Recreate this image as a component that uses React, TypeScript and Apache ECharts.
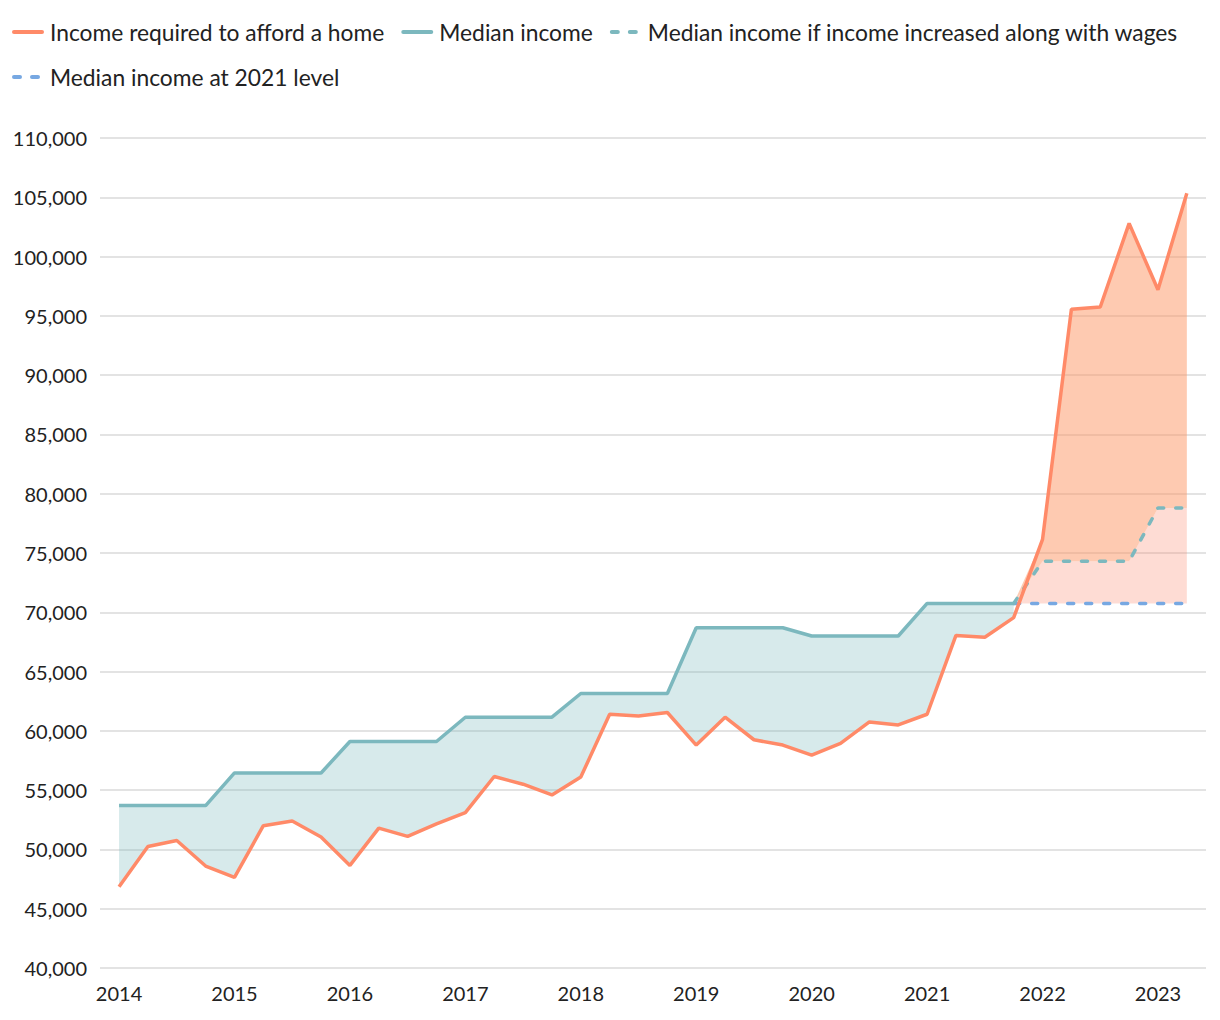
import React, { useEffect, useRef } from "react";
import * as echarts from "echarts";

const firstYear = 2014;
const yearTicks = [2014, 2015, 2016, 2017, 2018, 2019, 2020, 2021, 2022, 2023];

// Quarterly, 2014 Q1 – 2023 Q2
const incomeRequired = [
  46850, 50250, 50750, 48600,
  47650, 52000, 52400, 51050,
  48650, 51800, 51100, 52150,
  53100, 56150, 55500, 54600,
  56100, 61400, 61250, 61550,
  58800, 61150, 59250, 58800,
  57950, 58950, 60750, 60500,
  61400, 68050, 67900, 69550,
  76150, 95550, 95750, 102800,
  97200, 105350,
];

// Quarterly, 2014 Q1 – 2021 Q4
const medianIncome = [
  53700, 53700, 53700, 53700,
  56450, 56450, 56450, 56450,
  59100, 59100, 59100, 59100,
  61150, 61150, 61150, 61150,
  63150, 63150, 63150, 63150,
  68700, 68700, 68700, 68700,
  68000, 68000, 68000, 68000,
  70750, 70750, 70750, 70750,
];

// Quarterly, 2021 Q4 – 2023 Q2
const incomeWithWages = [70750, 74300, 74300, 74300, 74300, 78800, 78800];
const incomeAt2021Level = [70750, 70750, 70750, 70750, 70750, 70750, 70750];
const projectionStartIndex = 31; // 2021 Q4

const NAME_REQ = "Income required to afford a home";
const NAME_MED = "Median income";
const NAME_WAGE = "Median income if income increased along with wages";
const NAME_2021 = "Median income at 2021 level";

const ORANGE = "#ff8a68";
const TEAL = "#7cb8be";
const BLUE = "#77a8e2";
const FONT = "Lato";

const xOf = (i: number) => firstYear + i / 4;

function bandSeries(upper: number[][], lower: number[][], fill: string) {
  return {
    type: "custom",
    silent: true,
    z: 1,
    data: [[upper[0][0], upper[0][1]]],
    encode: { x: 0, y: 1 },
    renderItem: (_params: any, api: any) => {
      const top = upper.map((p) => api.coord(p));
      const bottom = lower.map((p) => api.coord(p)).reverse();
      return {
        type: "polygon",
        shape: { points: top.concat(bottom) },
        style: { fill },
      };
    },
  };
}

export default function App() {
  const ref = useRef<HTMLDivElement>(null);

  useEffect(() => {
    document.body.style.margin = "0";
    if (!ref.current) return;
    const chart = echarts.init(ref.current, undefined, { renderer: "svg" });

    const reqData = incomeRequired.map((v, i) => [xOf(i), v]);
    const medData = medianIncome.map((v, i) => [xOf(i), v]);
    const wageData = incomeWithWages.map((v, j) => [xOf(j + projectionStartIndex), v]);
    const lvlData = incomeAt2021Level.map((v, j) => [xOf(j + projectionStartIndex), v]);

    const reqHistoric = medianIncome.map((_, i) => [xOf(i), incomeRequired[i]]);
    const reqProjected = incomeWithWages.map((w, j) => [
      xOf(j + projectionStartIndex),
      Math.max(w, incomeRequired[j + projectionStartIndex]),
    ]);

    chart.setOption({
      animation: false,
      textStyle: { fontFamily: FONT },
      legend: {
        left: 7,
        top: 13,
        width: 1200,
        itemWidth: 28,
        itemHeight: 4,
        itemGap: 17,
        selectedMode: false,
        itemStyle: { opacity: 0 },
        lineStyle: { width: 4, cap: "round" },
        textStyle: {
          fontFamily: FONT,
          fontSize: 22.8,
          lineHeight: 28,
          color: "#222",
          padding: [0, 0, 0, 3],
        },
        data: [NAME_REQ, NAME_MED, NAME_WAGE, NAME_2021],
      },
      grid: { left: 100, right: 14, top: 138, bottom: 52, containLabel: false },
      xAxis: {
        type: "value",
        min: 2013.835,
        max: 2023.416,
        axisLine: { show: false },
        axisTick: { show: false },
        splitLine: { show: false },
        axisLabel: {
          customValues: yearTicks,
          formatter: (v: number) => String(v),
          fontFamily: FONT,
          fontSize: 20,
          color: "#222",
          margin: 15,
        },
      },
      yAxis: {
        type: "value",
        min: 40000,
        max: 110000,
        interval: 5000,
        axisLine: { show: false },
        axisTick: { show: false },
        splitLine: { lineStyle: { color: "#e3e3e3", width: 2 } },
        axisLabel: {
          fontFamily: FONT,
          fontSize: 20,
          color: "#222",
          margin: 13,
          formatter: (v: number) => v.toLocaleString("en-US"),
        },
      },
      series: [
        bandSeries(medData, reqHistoric, "rgba(124,184,190,0.3)"),
        bandSeries(wageData, lvlData, "rgba(250,130,100,0.28)"),
        bandSeries(reqProjected, wageData, "rgba(253,150,100,0.5)"),
        {
          type: "line",
          name: NAME_2021,
          data: lvlData,
          symbol: "none",
          z: 3,
          lineStyle: { color: BLUE, width: 3.5, type: [6, 12], cap: "round" },
          itemStyle: { color: BLUE },
        },
        {
          type: "line",
          name: NAME_WAGE,
          data: wageData,
          symbol: "none",
          z: 3,
          lineStyle: { color: TEAL, width: 3.5, type: [6, 12], cap: "round" },
          itemStyle: { color: TEAL },
        },
        {
          type: "line",
          name: NAME_MED,
          data: medData,
          symbol: "none",
          z: 3,
          lineStyle: { color: TEAL, width: 3.5 },
          itemStyle: { color: TEAL },
        },
        {
          type: "line",
          name: NAME_REQ,
          data: reqData,
          symbol: "none",
          z: 4,
          lineStyle: { color: ORANGE, width: 3.5 },
          itemStyle: { color: ORANGE },
        },
      ],
    });

    return () => chart.dispose();
  }, []);

  return <div ref={ref} style={{ width: 1220, height: 1020 }} />;
}
